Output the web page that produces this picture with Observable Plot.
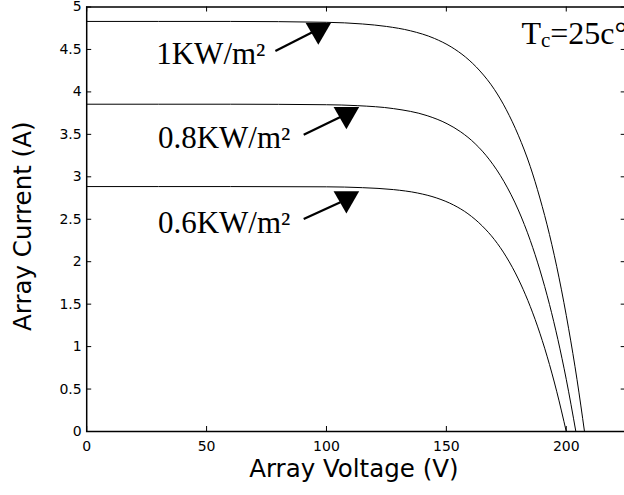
<!DOCTYPE html>
<html><head><meta charset="utf-8">
<script src="https://cdn.jsdelivr.net/npm/d3@7"></script>
<script src="https://cdn.jsdelivr.net/npm/@observablehq/plot@0.6"></script>
<style>html,body{margin:0;padding:0;background:#fff;overflow:hidden}</style>
</head><body><div id="chart"></div>
<script>
// ---- data ----
const seriesNames = ["1KW/m²", "0.8KW/m²", "0.6KW/m²"];

const voltage1 = [0, 60, 100, 115, 125, 135, 145, 152, 158, 164, 170, 175, 180, 185, 189, 193, 197, 201, 204.5, 207.6];
const current1 = [4.83, 4.83, 4.82, 4.80, 4.771, 4.72, 4.63, 4.53, 4.41, 4.247, 4.03, 3.79, 3.49, 3.12, 2.75, 2.32, 1.81, 1.21, 0.61, 0];

const voltage2 = [0, 60, 100, 112.8, 128, 142, 150.3, 156, 162, 168, 174, 180, 185, 189, 193, 196.5, 200, 204];
const current2 = [3.855, 3.855, 3.849, 3.838, 3.803, 3.72, 3.625, 3.529, 3.39, 3.20, 2.945, 2.609, 2.25, 1.903, 1.497, 1.085, 0.615, 0];

const voltage3 = [0, 60, 100, 115, 128, 138, 146, 153, 159, 165, 170, 175, 180, 184, 188, 192, 196, 200];
const current3 = [2.885, 2.885, 2.882, 2.872, 2.849, 2.809, 2.75, 2.668, 2.565, 2.42, 2.262, 2.057, 1.797, 1.542, 1.241, 0.887, 0.474, 0];

const xTicks = [0, 50, 100, 150, 200];
const yTicks = [0, 0.5, 1, 1.5, 2, 2.5, 3, 3.5, 4, 4.5, 5];
const xDomain = [0, 225];
const yDomain = [0, 5];
const xLabel = "Array Voltage (V)";
const yLabel = "Array Current (A)";

// annotation anchors, in data units
const labelV = [29.0, 29.7, 29.7];
const labelI = [4.33, 3.335, 2.34];
const markerV = [96.6, 108.3, 108.3];
const markerI = [4.728, 3.735, 2.742];
const arrowFromV = [78.7, 90.5, 90.5];
const arrowFromI = [4.483, 3.495, 2.502];
const arrowToV = [94.5, 105.8, 105.8];
const arrowToI = [4.708, 3.703, 2.699];

// temperature note "T_c =25c°": main text, subscript, rest
const tempMain = "T";
const tempSub = "c";
const tempRest = "=25c°";
const tempV = [181.3];
const tempI = [4.567];

// ---- build tables ----
const curves = [[voltage1, current1], [voltage2, current2], [voltage3, current3]];
const table = curves.flatMap(([vs, is], k) => vs.map((v, j) => ({series: seriesNames[k], V: v, I: is[j]})));
const labels = seriesNames.map((s, k) => ({text: s, V: labelV[k], I: labelI[k]}));
const markers = seriesNames.map((s, k) => ({V: markerV[k], I: markerI[k]}));
const arrows = seriesNames.map((s, k) => ({V1: arrowFromV[k], I1: arrowFromI[k], V2: arrowToV[k], I2: arrowToI[k]}));
const temp = [{text: tempMain + tempSub + tempRest, V: tempV[0], I: tempI[0]}];

const W = 624, H = 495;
const mL = 86.2, mR = -1.7, mT = 6.5, mB = 64;
const plotH = H - mT - mB, plotW = W - mL - mR;
const tick = 5;
const sans = "DejaVu Sans, sans-serif";
const serif = "Liberation Serif, Times New Roman, serif";

const chart = Plot.plot({
  width: W, height: H,
  marginLeft: mL, marginRight: mR, marginTop: mT, marginBottom: mB,
  x: {domain: xDomain},
  y: {domain: yDomain},
  style: {background: "white", color: "black", overflow: "visible"},
  marks: [
    Plot.axisX(xTicks, {anchor: "bottom", tickSize: 0, tickPadding: 10, fontSize: 14, fontFamily: sans, label: null, tickFormat: d => String(d)}),
    Plot.axisY(yTicks, {anchor: "left", tickSize: 0, tickPadding: 5, fontSize: 14, fontFamily: sans, label: null, tickFormat: d => String(d)}),
    Plot.ruleX(xTicks, {x: d => d, insetTop: plotH - tick, stroke: "black", strokeWidth: 1}),
    Plot.ruleX(xTicks, {x: d => d, insetBottom: plotH - tick, stroke: "black", strokeWidth: 1}),
    Plot.ruleY(yTicks, {y: d => d, insetRight: plotW - tick, stroke: "black", strokeWidth: 1}),
    Plot.ruleY(yTicks, {y: d => d, insetLeft: plotW - tick, stroke: "black", strokeWidth: 1}),
    Plot.line(table, {x: "V", y: "I", z: "series", curve: "monotone-x", stroke: "black", strokeWidth: 1}),
    Plot.link(arrows, {x1: "V1", y1: "I1", x2: "V2", y2: "I2", stroke: "black", strokeWidth: 2.2}),
    Plot.dot(markers, {x: "V", y: "I", symbol: "triangle", r: 9.5, rotate: 180, fill: "black", stroke: null}),
    Plot.text(labels, {x: "V", y: "I", text: "text", textAnchor: "start", lineAnchor: "bottom", fontFamily: serif, fontSize: 31, fill: "black"}),
    Plot.text(temp, {x: "V", y: "I", text: "text", textAnchor: "start", lineAnchor: "bottom", fontFamily: serif, fontSize: 32, fill: "black", className: "tempnote"}),
    Plot.text([xLabel], {frameAnchor: "bottom", lineAnchor: "bottom", textAnchor: "middle", dy: 45, dx: -2.6, fontFamily: sans, fontSize: 24.5, fill: "black"}),
    Plot.text([yLabel], {frameAnchor: "left", rotate: -90, textAnchor: "middle", lineAnchor: "bottom", dx: -55.4, dy: 7, fontFamily: sans, fontSize: 24.5, fill: "black"}),
    Plot.frame({stroke: "black", strokeWidth: 1.5})
  ]
});

// turn the temperature note into one text with a subscript
d3.select(chart).selectAll("g.tempnote text").each(function() {
  const t = d3.select(this);
  t.text(null);
  t.append("tspan").text(tempMain);
  t.append("tspan").attr("font-size", 21).attr("dy", 3.4).text(tempSub);
  t.append("tspan").attr("dy", -3.4).text(tempRest);
});

document.getElementById("chart").appendChild(chart);
</script>
</body></html>
